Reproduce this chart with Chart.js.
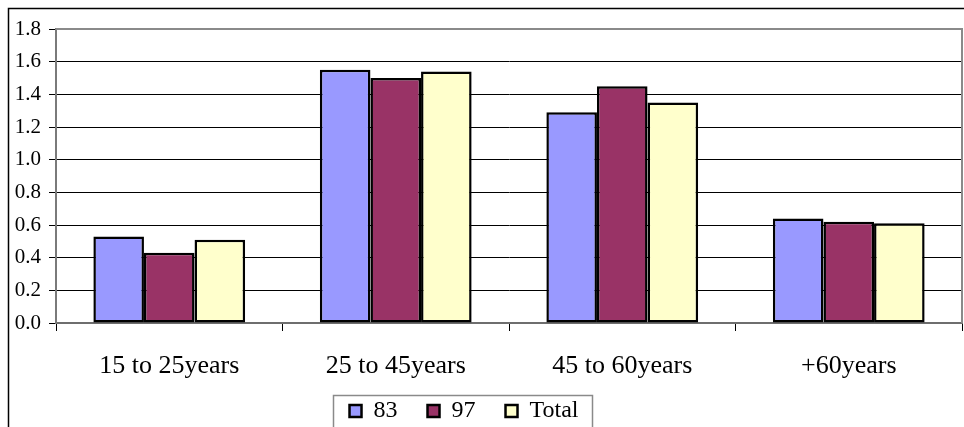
<!DOCTYPE html>
<html>
<head>
<meta charset="utf-8">
<script src="https://cdn.jsdelivr.net/npm/chart.js@4"></script>
<style>
  html, body { margin: 0; padding: 0; background: #fff; overflow: hidden; }
  #wrap { width: 964px; height: 427px; overflow: hidden; }
  canvas { display: block; }
</style>
</head>
<body>
<div id="wrap"><canvas id="c" width="964" height="447"></canvas></div>
<script>
// Age groups and the three series
const categories = ['15 to 25years', '25 to 45years', '45 to 60years', '+60years'];
const series83 = [0.53, 1.55, 1.29, 0.64];
const series97 = [0.43, 1.50, 1.45, 0.62];
const seriesTotal = [0.51, 1.54, 1.35, 0.61];
const yTicks = [0.0, 0.2, 0.4, 0.6, 0.8, 1.0, 1.2, 1.4, 1.6, 1.8];

const SERIF = '"Liberation Serif", "Times New Roman", serif';
const LEGEND_SHIFT_X = 17;
const LEGEND_SHIFT_Y = 14;

// Frame lines: outer chart border, plot-area border, legend box
const framePlugin = {
  id: 'frames',
  afterLayout(chart) {
    const lg = chart.legend;
    if (lg) {
      lg.left -= LEGEND_SHIFT_X; lg.right -= LEGEND_SHIFT_X;
      lg.top -= LEGEND_SHIFT_Y; lg.bottom -= LEGEND_SHIFT_Y;
    }
  },
  beforeDatasetsDraw(chart) {
    const { ctx, chartArea: a } = chart;
    ctx.save();
    ctx.strokeStyle = '#8a8a8a';
    ctx.lineWidth = 2;
    ctx.beginPath();
    ctx.moveTo(a.left, a.top);
    ctx.lineTo(a.right, a.top);
    ctx.lineTo(a.right, a.bottom);
    ctx.stroke();
    ctx.restore();
  },
  afterDraw(chart) {
    const { ctx } = chart;
    ctx.save();
    // outer border
    ctx.strokeStyle = '#000';
    ctx.lineWidth = 1.5;
    ctx.beginPath();
    ctx.moveTo(8.5, 480);
    ctx.lineTo(8.5, 8.5);
    ctx.lineTo(970, 8.5);
    ctx.stroke();
    // legend box
    const lg = chart.legend;
    if (lg && lg.lineWidths) {
      const pad = lg.options.labels.padding;
      const lw = lg.lineWidths[0];
      const start = (lg.left + pad + lg.right - lw) / 2;
      const end = start + lw - pad;
      const top = lg.top + pad - 4.5;
      ctx.strokeStyle = '#8a8a8a';
      ctx.lineWidth = 1.5;
      ctx.strokeRect(Math.round(start - 17) + 0.5, Math.round(top) + 0.5,
                     Math.round(end - start + 30), 60);
    }
    ctx.restore();
  }
};

const barStyle = { borderColor: '#000', borderWidth: 2.5, borderSkipped: false };

new Chart(document.getElementById('c'), {
  type: 'bar',
  data: {
    labels: categories,
    datasets: [
      Object.assign({ label: '83', data: series83, backgroundColor: '#9999ff' }, barStyle),
      Object.assign({ label: '97', data: series97, backgroundColor: '#993366' }, barStyle),
      Object.assign({ label: 'Total', data: seriesTotal, backgroundColor: '#ffffcc' }, barStyle)
    ]
  },
  options: {
    responsive: false,
    devicePixelRatio: 1,
    animation: false,
    layout: { padding: { left: 0, top: 29, right: 2, bottom: 0 } },
    datasets: { bar: { categoryPercentage: 0.67, barPercentage: 1.0 } },
    plugins: {
      tooltip: { enabled: false },
      legend: {
        position: 'bottom',
        labels: {
          color: '#000',
          font: { family: SERIF, size: 24 },
          boxWidth: 12,
          boxHeight: 12,
          padding: 30
        }
      }
    },
    scales: {
      x: {
        grid: { display: true, drawOnChartArea: false, drawTicks: true, tickLength: 8, color: '#000', offset: true },
        border: { display: true, color: '#6e6e6e', width: 2 },
        ticks: { color: '#000', font: { family: SERIF, size: 26 }, padding: 20, maxRotation: 0 },
        afterFit(scale) { scale.height = 60; }
      },
      y: {
        min: 0,
        max: 1.8,
        afterBuildTicks(scale) { scale.ticks = yTicks.map(v => ({ value: v })); },
        grid: { color: '#000', lineWidth: 1, drawTicks: true, tickLength: 7 },
        border: { display: true, color: '#7a7a7a', width: 2 },
        ticks: {
          color: '#000',
          font: { family: SERIF, size: 21 },
          padding: 8,
          callback: v => Number(v).toFixed(1)
        },
        afterFit(scale) { scale.width = 56; }
      }
    }
  },
  plugins: [framePlugin]
});
</script>
</body>
</html>
